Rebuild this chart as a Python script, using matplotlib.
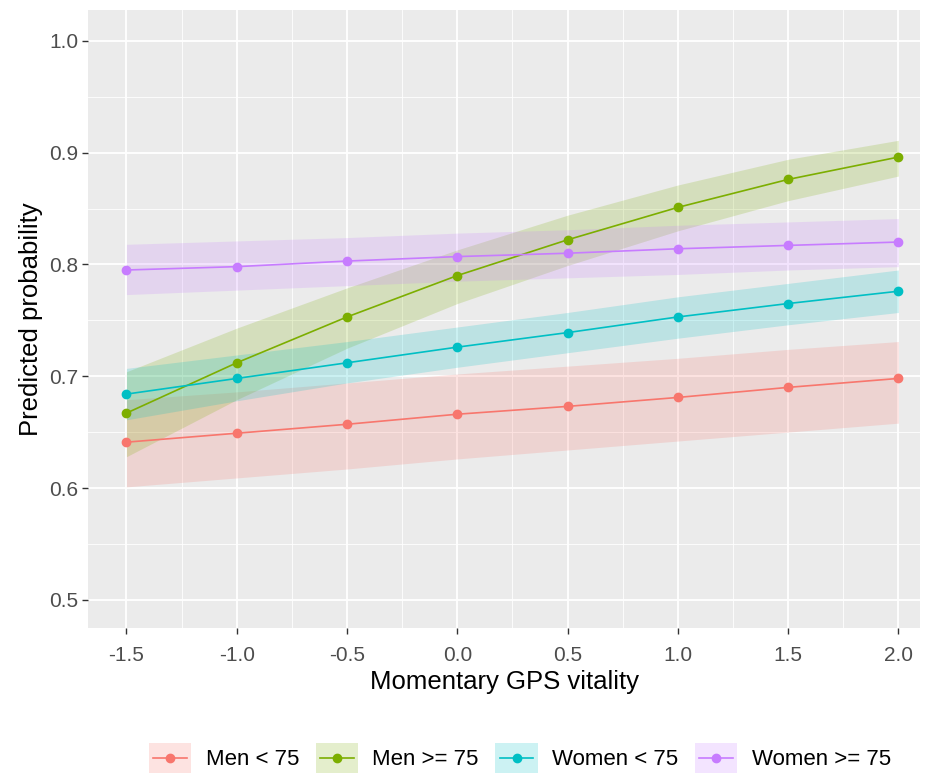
import numpy as np
import matplotlib
matplotlib.use("Agg")
import matplotlib.pyplot as plt
from matplotlib.patches import Rectangle
from matplotlib.lines import Line2D
from matplotlib.legend_handler import HandlerBase

plt.rcParams["font.family"] = ["Liberation Sans", "DejaVu Sans"]

vitality = [-1.5, -1.0, -0.5, 0.0, 0.5, 1.0, 1.5, 2.0]
groups = ["Men < 75", "Men >= 75", "Women < 75", "Women >= 75"]
colors = ["#F8766D", "#7CAE00", "#00BFC4", "#C77CFF"]

men_u75 = [0.641, 0.649, 0.657, 0.666, 0.673, 0.681, 0.690, 0.698]
men_u75_lo = [0.601, 0.609, 0.617, 0.626, 0.634, 0.642, 0.650, 0.658]
men_u75_hi = [0.679, 0.686, 0.694, 0.702, 0.709, 0.716, 0.724, 0.731]

men_o75 = [0.667, 0.712, 0.753, 0.790, 0.822, 0.851, 0.876, 0.896]
men_o75_lo = [0.628, 0.679, 0.725, 0.765, 0.799, 0.830, 0.857, 0.879]
men_o75_hi = [0.704, 0.743, 0.779, 0.813, 0.844, 0.871, 0.894, 0.911]

women_u75 = [0.684, 0.698, 0.712, 0.726, 0.739, 0.753, 0.765, 0.776]
women_u75_lo = [0.661, 0.678, 0.694, 0.708, 0.721, 0.734, 0.746, 0.757]
women_u75_hi = [0.707, 0.719, 0.731, 0.744, 0.757, 0.771, 0.783, 0.795]

women_o75 = [0.795, 0.798, 0.803, 0.807, 0.810, 0.814, 0.817, 0.820]
women_o75_lo = [0.773, 0.777, 0.781, 0.785, 0.788, 0.791, 0.795, 0.798]
women_o75_hi = [0.818, 0.821, 0.824, 0.828, 0.831, 0.835, 0.838, 0.841]

series = [(men_u75, men_u75_lo, men_u75_hi),
          (men_o75, men_o75_lo, men_o75_hi),
          (women_u75, women_u75_lo, women_u75_hi),
          (women_o75, women_o75_lo, women_o75_hi)]


class RibbonKey(HandlerBase):
    # ggplot-style key: faint filled box with line + point across it
    def create_artists(self, legend, orig, xd, yd, w, h, fontsize, trans):
        c = orig.get_color()
        box = Rectangle((-xd, -yd), w, h, facecolor=c, alpha=0.2,
                        edgecolor="none", transform=trans)
        y = -yd + h / 2
        ln = Line2D([-xd + 0.1 * w, -xd + 0.9 * w], [y, y], color=c, lw=1.2,
                    transform=trans)
        pt = Line2D([-xd + w / 2], [y], color=c, marker="o", ms=6, ls="none",
                    transform=trans)
        return [box, ln, pt]


fig = plt.figure(figsize=(9.25, 7.75), dpi=100)
ax = fig.add_axes([0.095, 0.19, 0.9, 0.797])
ax.set_facecolor("#EBEBEB")

for (mid, lo, hi), c in zip(series, colors):
    ax.fill_between(vitality, lo, hi, color=c, alpha=0.2, linewidth=0, zorder=2)
lines = []
for (mid, lo, hi), c in zip(series, colors):
    ln, = ax.plot(vitality, mid, color=c, lw=1.2, marker="o", ms=6, zorder=3)
    lines.append(ln)

ax.set_xlim(-1.675, 2.1)
ax.set_ylim(0.475, 1.0275)
ax.set_xticks(vitality)
ax.set_xticklabels([f"{v:.1f}" for v in vitality])
ax.set_yticks([0.5, 0.6, 0.7, 0.8, 0.9, 1.0])
ax.set_xticks(np.arange(-1.25, 2.1, 0.5), minor=True)
ax.set_yticks(np.arange(0.55, 1.0, 0.1), minor=True)
ax.grid(True, which="major", color="white", lw=1.3, zorder=1)
ax.grid(True, which="minor", color="white", lw=0.6, zorder=1)
ax.set_axisbelow(True)
for s in ax.spines.values():
    s.set_visible(False)
ax.tick_params(which="major", length=4, width=1, color="#333333",
               labelsize=15, labelcolor="#4D4D4D")
ax.tick_params(axis="x", pad=9)
ax.tick_params(axis="y", pad=3)
ax.tick_params(which="minor", length=0)

ax.set_xlabel("Momentary GPS vitality", fontsize=18.5, color="black", labelpad=4)
ax.set_ylabel("Predicted probability", fontsize=18.5, color="black", labelpad=4)

fig.legend(lines, groups, loc="center", bbox_to_anchor=(0.562, 0.022),
           ncol=4, frameon=False, fontsize=16,
           handler_map={Line2D: RibbonKey()},
           handlelength=1.9, handleheight=1.7, columnspacing=0.75,
           handletextpad=0.65, borderaxespad=0)

fig.savefig("out.png", dpi=100)
